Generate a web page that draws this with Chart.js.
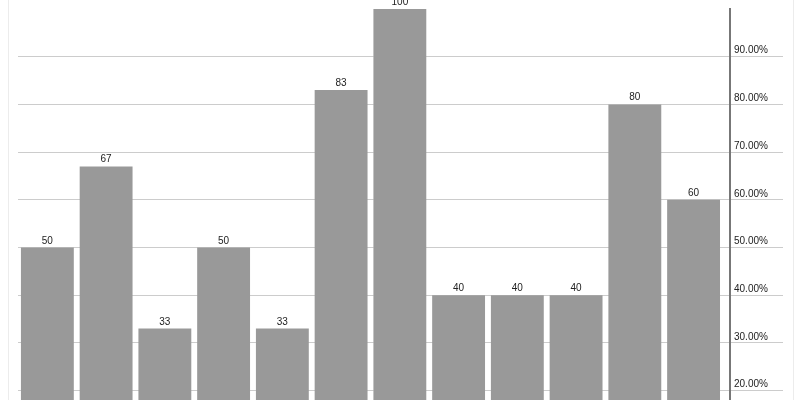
<!DOCTYPE html>
<html>
<head>
<meta charset="utf-8">
<script src="https://cdn.jsdelivr.net/npm/chart.js@4/dist/chart.umd.min.js"></script>
<style>
  html, body { margin: 0; padding: 0; background: #fff; overflow: hidden; }
  #frame { position: absolute; left: 8px; top: -20px; width: 784px; height: 540px; border-left: 1px solid #ececec; border-right: 1px solid #ececec; }
  #wrap { position: absolute; left: 0; top: 0; width: 800px; height: 486px; }
</style>
</head>
<body>
<div id="frame"></div>
<div id="wrap"><canvas id="c"></canvas></div>
<script>
const categories = ['1','2','3','4','5','6','7','8','9','10','11','12'];
const values = [50, 67, 33, 50, 33, 83, 100, 40, 40, 40, 80, 60];
const yTicks = [0, 10, 20, 30, 40, 50, 60, 70, 80, 90, 100];

const valueLabels = {
  id: 'valueLabels',
  afterDatasetsDraw(chart) {
    const ctx = chart.ctx;
    const meta = chart.getDatasetMeta(0);
    ctx.save();
    ctx.font = '10px "Liberation Sans", Arial, sans-serif';
    ctx.fillStyle = '#222';
    ctx.textAlign = 'center';
    ctx.textBaseline = 'alphabetic';
    meta.data.forEach((bar, i) => {
      ctx.fillText(String(values[i]), bar.x, bar.y - 4);
    });
    ctx.restore();
  }
};

new Chart(document.getElementById('c'), {
  type: 'bar',
  data: {
    datasets: [{
      label: 'values',
      data: values.map((v, i) => ({ x: i, y: v, name: categories[i] })),
      backgroundColor: '#999999',
      borderWidth: 0,
      barPercentage: 0.9,
      categoryPercentage: 1.0
    }]
  },
  options: {
    responsive: true,
    maintainAspectRatio: false,
    animation: false,
    layout: { padding: { left: 18, right: 0, top: 9, bottom: 0 } },
    plugins: { legend: { display: false }, tooltip: { enabled: false } },
    scales: {
      x: {
        type: 'linear',
        display: false,
        offset: false,
        grid: { offset: false },
        min: -0.5,
        max: categories.length - 0.5 + 0.12
      },
      y: {
        position: 'right',
        min: 0,
        max: 100,
        afterBuildTicks(scale) { scale.ticks = yTicks.map(v => ({ value: v })); },
        afterFit(scale) { scale.width = 70; },
        border: { display: true, color: '#777777', width: 2 },
        grid: {
          color: (c) => (c.tick && (c.tick.value === 100 || c.tick.value === 0)) ? 'rgba(0,0,0,0)' : '#cccccc',
          lineWidth: 1,
          drawTicks: true,
          tickLength: 53
        },
        ticks: {
          padding: -49,
          labelOffset: -6,
          color: '#222',
          font: { family: '"Liberation Sans", Arial, sans-serif', size: 10 },
          callback: (v) => (v === 100 || v === 0) ? '' : v.toFixed(2) + '%'
        }
      }
    }
  },
  plugins: [valueLabels]
});
</script>
</body>
</html>
